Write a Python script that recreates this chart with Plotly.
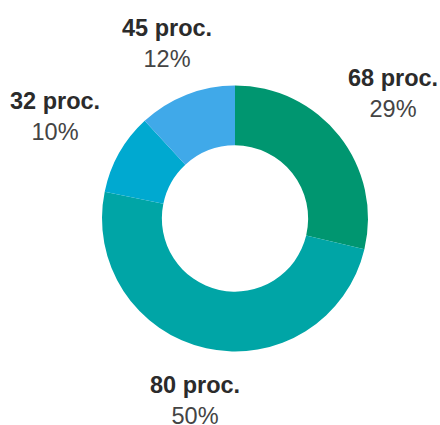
import math
import plotly.graph_objects as go

categories = ["68 proc.", "80 proc.", "32 proc.", "45 proc."]
values = [29, 50, 10, 12]
colors = ["#009670", "#00a5a6", "#00a9d0", "#40a9e9"]

W, H = 440, 425
CX, CY, R = 235, 218.5, 133  # pixel centre / outer radius of the donut
HOLE = 0.55
GAP = 161          # distance from centre at which label boxes start
HW, HH = 40, 25    # half width / half height of label boxes

fig = go.Figure(go.Pie(
    labels=categories,
    values=values,
    hole=HOLE,
    sort=False,
    direction="clockwise",
    rotation=0,
    marker=dict(colors=colors, line=dict(width=0)),
    textinfo="none",
    hoverinfo="label+percent",
    showlegend=False,
    domain=dict(x=[(CX - R) / W, (CX + R) / W],
                y=[(H - CY - R) / H, (H - CY + R) / H]),
))

total = sum(values)
cum = 0
annotations = []
for lab, v in zip(categories, values):
    mid = (cum + v / 2) / total * 2 * math.pi
    cum += v
    dx, dy = math.sin(mid), -math.cos(mid)
    ext = min(HW / abs(dx) if abs(dx) > 1e-9 else 1e9,
              HH / abs(dy) if abs(dy) > 1e-9 else 1e9)
    d = GAP + ext
    px, py = CX + dx * d, CY + dy * d
    pct = f"{round(v / total * 100)}%"
    annotations.append(dict(
        x=px / W, y=1 - py / H, xref="paper", yref="paper",
        xanchor="center", yanchor="middle", showarrow=False,
        text=f"<b>{lab}</b><br><span style='color:#444444'>{pct}</span>",
        font=dict(family="Liberation Sans, Arial, sans-serif", size=23.5, color="#2b2b2b"),
        align="center",
    ))

fig.update_layout(
    width=W, height=H,
    margin=dict(l=0, r=0, t=0, b=0),
    paper_bgcolor="white", plot_bgcolor="white",
    annotations=annotations,
)

fig.write_html(
    "out.html",
    config={"displayModeBar": False},
    post_script="document.body.style.margin='0';document.body.style.overflow='hidden';",
)
